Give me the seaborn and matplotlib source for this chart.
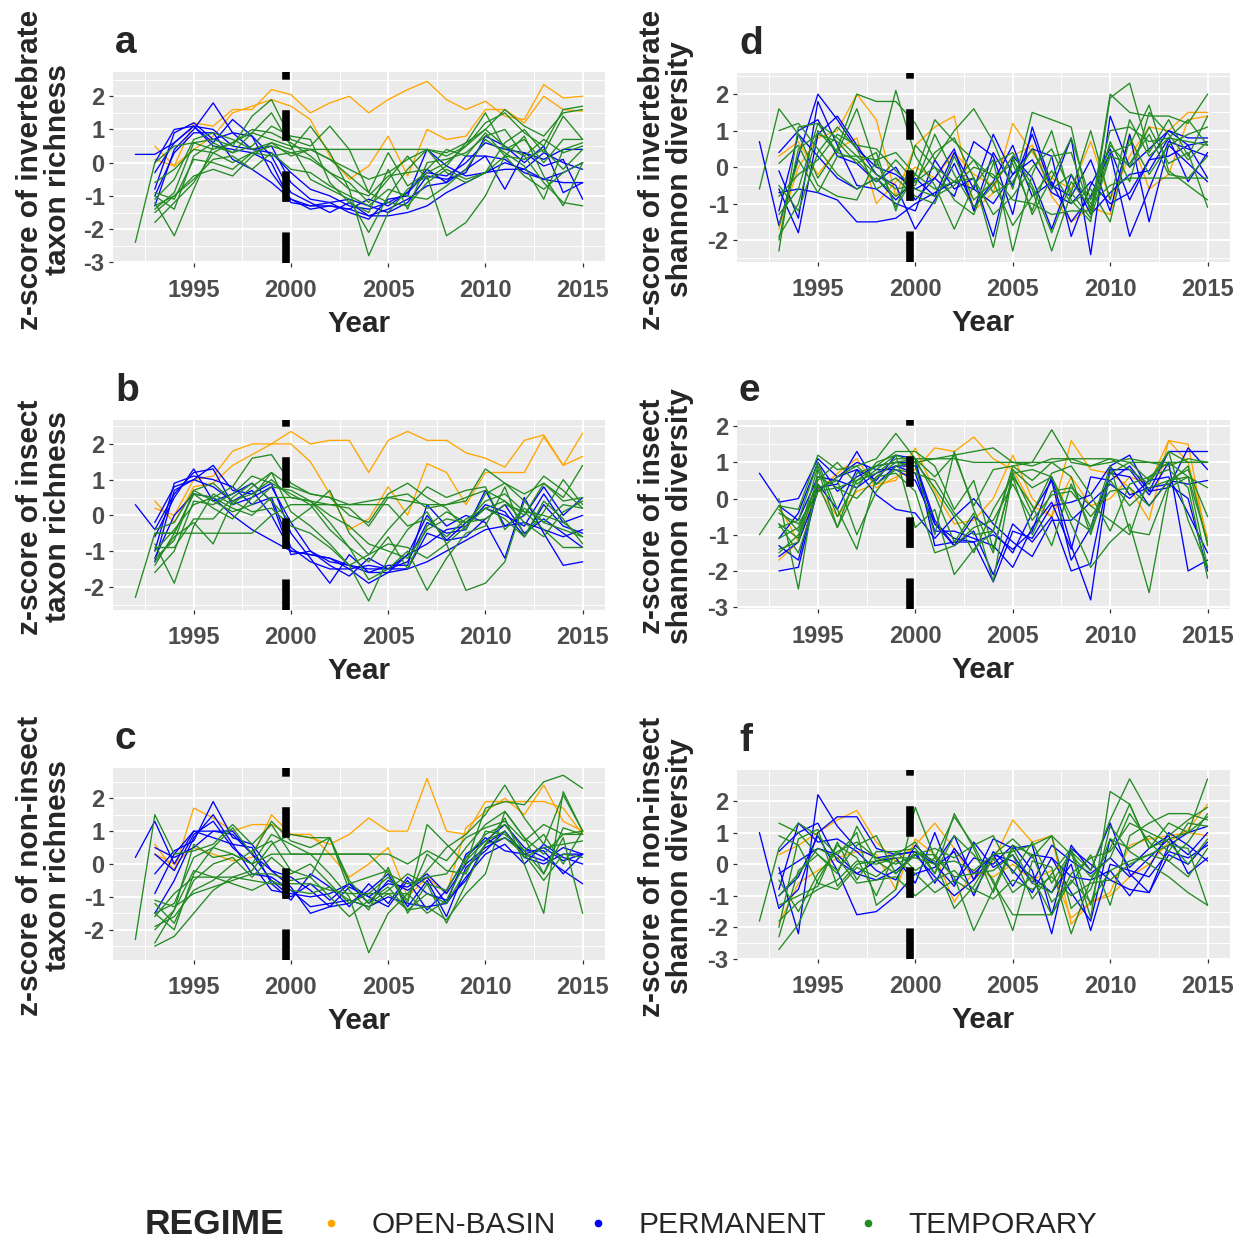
import numpy as np
import pandas as pd
import seaborn as sns
import matplotlib
matplotlib.use("Agg")
import matplotlib.pyplot as plt
from matplotlib.lines import Line2D
from matplotlib.ticker import MultipleLocator, FixedLocator

NA = float("nan")
YEARS = list(range(1992, 2016))
REGIMES = ["OPEN-BASIN", "PERMANENT", "TEMPORARY"]
PALETTE = {"OPEN-BASIN": "#FFA500", "PERMANENT": "#0000FF", "TEMPORARY": "#228B22"}
BREAK_YEAR = 1999.75

# ---- (a) invertebrate taxon richness, one row per site, 1992..2015 ----
A_OPEN = [
    [NA, 0.5, -0.1, 1.2, 1.1, 1.6, 1.6, 2.2, 2.05, 1.5, 1.8, 2.0, 1.5, 1.9, 2.2, 2.45, 1.9, 1.6, 1.85, 1.4, 1.3, 2.35, 1.95, 2.0],
    [NA, 0.1, -0.1, 0.4, 0.8, 1.5, 1.7, 1.9, 1.7, 1.3, 0.2, -0.5, -0.1, 0.8, -0.4, 1.0, 0.7, 0.8, 1.6, 1.6, 1.2, 2.0, 1.6, 1.55],
]
A_PERM = [
    [0.25, 0.25, 0.6, 1.1, 1.0, 0.5, 0.4, 0.3, -0.3, -0.8, -1.0, -1.3, -1.4, -1.2, -0.9, -0.3, -0.4, 0.0, 0.6, 0.4, 0.3, 0.1, 0.4, 0.4],
    [NA, -1.3, 0.4, 1.0, 1.8, 0.9, 0.4, 0.5, -0.6, -1.1, -1.2, -1.1, -1.3, -1.5, -1.2, -0.4, -0.5, -0.3, 0.8, 0.5, 0.0, 0.5, -0.9, -0.6],
    [NA, -0.8, 0.9, 1.2, 0.7, 0.9, 0.8, 0.2, -0.9, -1.2, -1.5, -1.2, -1.6, -1.4, -1.1, -0.7, -0.6, -0.2, 0.2, -0.8, 0.3, -0.1, 0.1, -1.1],
    [NA, -0.3, 0.6, 1.1, 0.5, 0.4, 0.3, 0.0, -1.2, -1.3, -1.2, -1.5, -1.7, -1.1, -1.0, 0.4, -0.1, -0.4, -0.3, 0.0, -0.2, 0.3, 0.0, -0.2],
    [NA, 0.0, 1.0, 1.1, 0.6, 1.3, 0.8, -0.3, -1.1, -1.4, -1.3, -1.4, -1.1, -1.3, -0.9, -0.2, -0.6, 0.2, 0.2, 0.1, -0.3, -0.5, -0.3, 0.0],
    [NA, -1.0, 0.3, 0.9, 0.9, 0.1, -0.2, -0.6, -1.1, -1.3, -1.3, -1.4, -1.6, -1.6, -1.5, -1.3, -0.9, -0.6, -0.3, -0.2, -0.2, -0.5, -0.6, -0.6],
]
A_TEMP = [
    [-2.4, 0.0, 0.5, 0.6, 0.4, 0.6, 0.9, 0.7, 0.5, 0.4, 0.4, 0.4, 0.4, 0.4, 0.4, 0.4, 0.2, 0.5, 1.2, 1.5, 0.9, 0.5, 1.6, 1.7],
    [NA, -1.4, -0.9, 0.6, 0.7, 0.5, 1.4, 1.9, 0.7, 0.5, 1.1, 0.4, -0.9, 0.3, -0.7, -0.3, 0.0, 0.5, 1.0, 1.6, 1.1, 0.8, 1.5, 1.6],
    [NA, -1.2, -2.2, -0.8, 0.5, 0.3, 0.9, 1.5, 0.5, -0.5, -0.8, -1.1, -2.1, -1.0, -0.2, 0.4, -0.3, -0.6, -0.3, 0.6, 1.0, 0.3, 1.4, 0.7],
    [NA, -1.8, -1.2, -0.6, 0.3, 0.6, 1.0, 0.9, 0.6, 0.2, -0.3, -0.8, -2.8, -1.5, -0.8, -0.4, -2.2, -1.8, -1.0, 0.2, 0.8, -0.4, -1.3, 0.0],
    [NA, -1.0, -1.4, 0.2, 0.6, 0.3, 0.5, 1.1, 0.8, 0.7, -0.6, -1.2, -1.5, -0.2, -1.4, 0.0, 0.1, 0.3, 0.8, 1.0, 0.2, -0.6, -1.2, -1.3],
    [NA, -0.9, -1.1, 0.1, 0.0, -0.2, 0.3, 0.5, 0.3, 0.1, -0.3, -0.6, -1.2, -0.5, 0.2, -0.5, -0.1, 0.6, 1.5, 0.4, 0.7, 0.0, 0.7, 0.7],
    [NA, -1.5, -1.0, -0.4, -0.2, -0.4, 0.2, 0.6, 0.4, 1.1, 0.3, -0.8, -1.0, -0.4, -0.3, -0.2, 0.4, 0.2, 0.9, 0.2, -0.4, -0.8, -0.3, 0.0],
    [NA, -1.3, -1.0, -0.5, 0.1, 0.2, -0.2, 0.3, -0.2, -0.3, -0.7, -1.0, -1.3, -0.8, -1.0, -1.1, -0.7, -0.2, 0.7, 0.3, -0.1, -1.1, 0.4, 0.6],
    [NA, -1.1, -0.5, 0.7, 0.9, 0.7, 0.4, 0.6, 0.2, 0.4, 0.1, -0.2, -0.5, -0.3, 0.1, 0.4, 0.3, 0.6, 1.0, 0.5, 0.2, 0.7, 0.3, 0.5],
    [NA, -0.6, -0.2, 0.4, 0.3, 0.0, 0.3, 0.2, 0.3, 0.4, 0.1, -0.4, -0.9, -1.2, -1.3, -0.6, -0.2, -0.5, -0.3, 0.2, 0.1, 0.4, -0.2, 0.4],
]

# ---- (b) insect taxon richness ----
B_OPEN = [
    [NA, 0.2, 0.0, 1.0, 1.1, 1.8, 2.0, 2.0, 2.35, 2.0, 2.1, 2.1, 1.2, 2.1, 2.35, 2.1, 2.1, 1.75, 1.6, 1.35, 2.1, 2.25, 1.4, 1.65],
    [NA, 0.4, -0.2, 0.8, 0.9, 1.4, 1.7, 2.0, 2.0, 1.5, 0.6, -0.4, -0.1, 0.8, 0.0, 1.45, 1.2, 0.3, 1.2, 1.2, 1.2, 2.2, 1.4, 2.3],
]
B_PERM = [
    [0.3, -0.4, 0.6, 1.2, 1.3, 0.3, 0.5, 0.8, -0.2, -1.0, -1.3, -1.4, -1.5, -1.5, -1.3, -0.2, -0.5, -0.4, 0.7, -0.3, 0.0, 0.8, 0.0, 0.5],
    [NA, -1.3, 0.7, 1.0, 1.4, 0.7, 0.6, 0.9, -0.5, -1.2, -1.9, -1.1, -1.6, -1.4, -1.4, 0.3, -0.3, 0.0, -0.2, -1.2, 0.5, -0.5, -1.4, -1.3],
    [NA, -1.0, 0.9, 1.1, 1.0, 0.8, 0.3, 0.5, -0.9, -1.3, -1.5, -1.5, -1.9, -1.6, -1.1, -0.8, -0.4, -0.3, 0.3, 0.1, -0.6, 0.3, -0.3, -0.5],
    [NA, -0.6, 0.5, 1.3, 0.4, 0.6, 0.9, 0.4, -1.1, -1.0, -1.4, -1.7, -1.2, -1.5, -1.5, -0.5, -0.7, -0.2, 0.2, 0.0, -0.3, 0.6, -0.2, 0.0],
    [NA, -0.2, 0.8, 1.0, 0.8, 0.4, 0.7, 0.0, -1.0, -1.1, -1.2, -1.5, -1.4, -1.5, -1.1, 0.0, -0.7, -0.6, -0.1, 0.3, -0.5, -0.1, -0.5, -0.9],
    [NA, -1.2, 0.0, 0.6, 0.5, 0.0, -0.4, -0.7, -1.0, -1.1, -1.2, -1.4, -1.6, -1.6, -1.5, -1.3, -1.0, -0.7, -0.4, -0.3, -0.2, -0.4, -0.6, -0.4],
]
B_TEMP = [
    [-2.3, -0.5, -0.5, 0.6, 0.2, -0.1, 0.5, 1.2, 0.8, 0.6, 0.5, 0.3, 0.4, 0.5, 0.4, 0.3, 0.3, 0.4, 1.3, 0.9, 0.6, 0.9, 0.5, 1.4],
    [NA, -1.4, -0.5, 0.6, 0.5, 0.8, 1.6, 1.7, 0.9, 0.6, 0.5, 0.0, -0.2, 0.6, 0.9, 0.5, 0.2, -0.4, 0.6, 0.9, 0.4, 1.1, 0.7, 0.2],
    [NA, -0.8, -1.9, -0.3, 0.6, 0.3, 0.8, 1.2, 0.1, -0.3, -0.8, -1.4, -2.4, -1.2, -0.4, 0.1, -0.8, -2.1, -1.9, -1.3, 0.4, -0.2, -0.4, -0.6],
    [NA, -1.6, -1.0, 0.4, 0.3, 0.6, 1.1, 0.9, 0.6, 0.3, -0.4, -0.9, -1.8, -1.5, -1.0, -2.1, -1.2, -0.5, -0.3, 0.8, -0.6, 0.1, 1.0, 0.3],
    [NA, -1.2, -0.7, 0.7, 0.9, 0.4, 0.6, 1.0, 0.5, 0.4, -0.2, -0.9, -1.3, -0.6, -1.5, -0.3, 0.1, -0.2, 0.4, 0.6, 0.1, -0.4, -0.9, -0.9],
    [NA, -0.9, -0.9, -0.1, -0.1, 0.5, 0.9, 0.4, -0.2, 0.2, 0.7, -0.5, -1.1, -0.4, 0.2, 0.8, 0.5, 0.7, 0.8, -0.4, 0.2, -0.2, 0.3, 0.2],
    [NA, -0.5, -0.5, -0.5, -0.5, -0.5, -0.5, 0.0, 0.3, 0.3, 0.3, 0.3, 0.3, 0.3, -0.3, -0.1, -0.6, -0.1, 0.2, -0.1, -0.6, 0.4, -0.1, -0.8],
    [NA, -1.3, -0.6, -0.2, -0.8, 0.4, 0.1, 0.2, -0.3, -0.5, -0.9, -1.4, -1.1, -0.8, -0.9, -1.2, -0.8, -0.3, 0.2, 0.4, -0.2, -0.6, 0.1, 0.4],
    [NA, -1.0, -0.4, 0.3, 0.5, 0.2, 0.0, 0.5, 0.5, 0.4, 0.3, 0.2, -0.3, 0.5, 0.6, 0.2, 0.3, 0.5, 0.7, 0.4, 0.0, 0.9, 0.4, 0.5],
    [NA, -0.4, -0.2, 0.7, 0.4, 0.1, 0.3, 0.8, 0.7, 0.4, 0.0, -0.3, -0.8, -1.0, -1.2, -0.4, -0.1, -0.2, -0.1, 0.3, 0.1, 0.0, -0.2, -0.6],
]

# ---- (c) non-insect taxon richness ----
C_OPEN = [
    [NA, 0.6, -0.2, 1.7, 1.4, 1.0, 1.2, 1.2, 0.9, 0.8, 0.6, 0.9, 1.4, 1.0, 1.0, 2.6, 1.0, 0.9, 1.9, 1.9, 1.9, 1.9, 1.7, 0.9],
    [NA, 0.3, 0.0, 0.5, 0.3, 0.1, 0.2, 1.5, 0.9, 0.9, 0.3, -0.4, 0.0, 0.5, -1.0, -0.4, -0.9, 1.1, 1.6, 2.0, 1.5, 2.4, 1.3, 1.0],
]
C_PERM = [
    [0.2, 1.3, 0.0, 1.0, 1.0, 1.0, 0.3, -0.5, -1.0, -0.6, -1.1, -0.6, -1.2, -0.5, -0.8, -0.4, -1.2, 0.3, 0.7, 1.2, 0.5, 0.2, -0.2, -0.6],
    [NA, -0.3, 0.4, 0.7, 1.9, 0.8, 0.6, -0.2, -0.7, -1.5, -1.3, -1.2, -0.8, -0.3, -1.3, -0.5, -1.6, -0.1, 0.4, 1.0, 0.3, 0.1, 0.5, 0.3],
    [NA, -1.5, -0.5, 0.8, 1.5, 0.6, 0.5, -0.6, -1.1, -0.3, -0.7, -1.3, -0.6, -1.2, -0.4, -0.9, -1.1, -0.5, 0.6, 1.0, 0.2, 0.0, 0.3, 0.3],
    [NA, 0.5, 0.2, 0.5, 1.0, 0.9, 0.3, -0.2, -0.4, -0.8, -1.3, -0.7, -1.0, -0.6, -0.7, -0.3, -0.9, 0.0, 0.5, 0.8, 0.4, 0.4, -0.3, 0.3],
    [NA, 0.3, -0.2, 0.9, 1.3, 0.5, 0.0, -0.8, -0.9, -1.0, -0.9, -0.6, -1.0, -1.3, -0.5, -1.4, -0.8, 0.2, 0.8, 0.4, 0.3, 0.5, 0.1, 0.3],
    [NA, -0.9, 0.3, 1.0, 0.8, 0.6, -0.3, -0.4, -0.8, -1.3, -1.2, -1.1, -1.3, -1.0, -1.2, -1.3, -1.2, -0.4, 0.3, 0.6, 0.0, 0.6, 0.2, 0.0],
]
C_TEMP = [
    [-2.3, 1.5, 0.3, 0.4, 0.6, 1.2, 0.6, 1.2, 0.3, 0.3, -0.3, -1.0, -2.7, -1.5, -0.9, -0.2, 0.5, 0.9, 1.5, 2.4, 1.4, 0.6, 2.1, 1.0],
    [NA, -2.5, -2.2, -1.5, -0.8, -0.4, -0.2, 0.6, 0.9, 0.8, 0.8, -0.6, -0.4, -0.2, -1.2, 1.2, 0.6, 0.0, 1.7, 1.9, 1.8, 2.5, 2.7, 2.3],
    [NA, -1.5, -2.0, -0.3, 0.5, 1.1, 0.3, 1.3, 0.7, 0.5, 0.8, -0.8, -1.4, -0.1, -1.5, -0.6, -1.8, -0.6, 0.6, 1.4, 0.0, -1.5, 2.2, 1.0],
    [NA, -2.4, -1.4, 0.6, 0.2, 0.3, 0.0, 0.3, 0.3, 0.3, 0.3, 0.3, 0.3, -0.3, -0.6, -0.4, -0.3, 0.5, 1.2, 1.6, 0.8, 0.3, 0.9, 0.9],
    [NA, -1.9, -1.6, -0.8, -0.5, 0.0, 0.4, 0.7, -0.2, -0.4, 0.8, -0.5, -1.2, -0.8, -0.3, -0.6, -0.8, 0.2, 0.9, 1.2, 0.4, -0.3, 0.8, -1.5],
    [NA, -1.2, -1.8, -0.5, 0.0, 0.2, -0.4, 0.2, -0.3, 0.0, -0.6, -1.2, -0.9, -0.4, -1.1, 0.3, -0.2, -0.3, 1.0, 0.9, 0.4, 0.9, 0.0, 1.0],
    [NA, -1.6, -0.9, -0.4, -0.4, -0.4, -0.5, -0.6, -0.6, -0.6, -0.8, -0.9, -0.9, -0.9, -0.9, -1.5, -1.1, 0.1, 0.7, 1.0, 0.2, 0.5, 0.6, 0.7],
    [NA, -1.1, -1.3, -0.9, -0.7, -0.5, -0.3, -0.3, -0.5, -0.4, -1.0, -1.6, -1.1, -0.7, -1.4, -1.3, -1.7, -0.9, -0.3, 1.6, 0.8, -0.3, 1.1, 0.9],
    [NA, -1.5, -1.2, 0.2, 0.5, 0.3, 0.0, 0.9, 0.6, 0.3, 0.3, 0.3, 0.3, 0.3, 0.0, 0.4, 0.1, 0.8, 1.1, 1.3, 0.7, 1.2, 0.9, 1.0],
    [NA, -2.0, -1.4, -0.2, -0.4, -0.6, -0.8, -0.5, -0.8, -0.9, -0.7, -1.1, -1.3, -0.9, -1.4, -0.9, -1.2, -0.2, 0.6, 0.8, 0.3, -0.5, 0.3, 0.2],
]

# ---- (d) invertebrate Shannon diversity ----
D_OPEN = [
    [NA, -1.7, 0.0, 0.8, 1.0, 2.0, 1.3, -0.8, 0.6, 1.1, 1.4, -1.2, -0.7, 1.2, 0.4, -0.3, -0.6, 0.7, -0.9, 0.3, 1.1, 1.0, 1.5, 1.5],
    [NA, 0.3, 0.7, -0.2, 0.5, 0.8, -1.0, -0.4, 0.0, -0.3, 0.4, -0.2, -0.5, 0.3, 0.6, -0.8, -1.5, -1.1, -1.3, 0.9, -0.6, -0.2, 1.3, 1.4],
]
D_PERM = [
    [0.7, -1.6, 0.3, 2.0, 1.3, 0.5, 0.0, -0.2, -0.6, -0.3, 0.5, -1.2, 0.4, -0.5, 0.9, -0.6, 0.8, -2.4, 1.4, 0.0, 0.5, 1.0, 0.8, 0.8],
    [NA, -0.1, -1.4, 1.8, 0.6, -0.5, -0.6, -1.0, -1.2, 0.2, -0.6, -0.3, -1.9, 0.3, -0.3, -1.7, -0.2, -1.3, -0.7, -0.2, -0.1, 0.8, -0.4, 0.4],
    [NA, 0.4, 1.0, 1.3, 0.3, 0.1, -0.4, 0.0, -0.9, -0.3, -0.8, 0.7, 0.3, -1.3, 1.1, -0.5, -0.8, 0.2, -1.2, 0.9, -1.5, 0.6, 0.1, -0.4],
    [NA, -0.6, -1.8, 0.9, 1.4, 0.6, -0.2, -0.5, -1.7, -0.9, 0.1, -1.1, -0.4, 0.6, -0.8, -0.4, -1.5, -0.8, 0.4, -1.9, -0.6, 0.7, 0.5, 0.3],
    [NA, -1.2, 0.9, 0.3, -0.3, -0.6, -0.3, -0.9, -0.3, -0.8, 0.4, -0.6, 0.9, -0.2, 0.5, 0.3, -1.9, -0.5, 0.5, -0.9, 0.2, 0.3, 0.6, 0.7],
    [NA, -0.7, -0.6, -0.7, -0.9, -1.5, -1.5, -1.4, -1.0, -0.7, -0.4, -0.6, -1.0, -0.2, 0.2, -0.7, -1.0, -0.4, -1.0, -0.7, 0.2, 1.0, 0.6, -0.3],
]
D_TEMP = [
    [-0.6, 1.6, 0.9, -0.3, 0.5, 2.0, 1.8, 1.8, 1.2, 0.2, 1.0, 1.6, 0.7, -0.6, 1.5, 1.3, 1.1, -1.3, 2.0, 1.5, 1.4, 1.4, 1.2, 2.0],
    [NA, -2.3, 1.1, 1.2, 0.4, 1.6, 0.0, 2.1, 0.3, -0.5, -1.7, -0.5, 0.2, -2.3, -0.2, 1.0, -0.9, -1.5, 1.9, 2.3, 0.4, 1.3, 0.3, 1.4],
    [NA, -2.0, 0.5, 0.9, 0.7, 0.1, 0.4, -1.2, 0.6, 0.0, -0.4, -0.3, -2.2, 0.2, -0.6, -2.3, -0.7, 1.0, -0.9, 1.3, 0.3, 0.8, 0.7, 0.6],
    [NA, -1.3, -0.6, 1.2, 0.8, 0.3, -0.2, -0.6, -0.5, 0.9, -0.2, -1.1, -0.5, 0.3, -1.3, -0.3, 0.8, -0.9, 0.6, 0.0, 1.1, 0.1, 0.4, -1.1],
    [NA, 1.0, 1.2, 0.5, -0.2, -0.6, -0.3, -0.8, -0.4, 0.4, 0.8, -0.3, -1.3, -0.8, 0.0, 0.5, -0.7, -1.4, 0.3, 0.1, 0.9, -0.2, -0.3, 0.3],
    [NA, -0.5, -1.2, 0.4, 1.1, 0.5, -0.6, -0.3, -0.8, -1.0, 0.3, -0.9, -0.4, -1.6, -0.8, -0.1, -1.0, -0.6, -1.5, 0.8, -0.2, 0.6, 0.9, 1.1],
    [NA, -1.6, 0.2, -0.7, 0.3, 0.3, 0.2, -1.1, -0.2, -0.6, -0.4, 0.2, -0.7, -0.4, 0.5, -0.6, -0.2, -1.0, -0.5, -0.3, -0.3, -0.3, -0.3, -0.3],
    [NA, 0.1, 0.6, -0.5, -0.8, -0.9, 0.2, 0.4, -0.2, 1.3, 0.7, 0.2, -0.3, 0.1, -1.2, 0.3, 0.4, -1.2, 0.7, -0.4, 1.5, 0.9, 0.2, 0.7],
    [NA, -0.8, -0.2, 0.2, 0.9, 0.6, 0.5, -0.1, -0.6, -0.8, -0.5, 0.0, -0.2, -0.9, -1.0, -1.3, -1.2, -1.2, 0.4, 0.6, 1.7, -0.1, -0.5, -0.9],
    [NA, -1.9, -1.0, 1.0, 0.4, 0.2, -0.4, 0.2, -0.4, 0.0, -0.9, -1.3, 0.1, 0.4, -0.5, -1.8, -0.4, -1.1, 1.0, 1.1, 0.7, 0.8, 1.3, 0.6],
]

# ---- (e) insect Shannon diversity ----
E_OPEN = [
    [NA, -0.2, -1.2, 0.2, 0.7, 1.1, 0.3, 0.6, 0.8, 1.4, 1.3, 1.7, 1.1, 0.8, -0.2, -0.5, 1.6, 0.8, 0.7, 0.3, -0.6, 1.6, 1.5, -1.3],
    [NA, -1.7, -1.2, 0.3, -0.5, 0.2, 0.4, 0.5, 1.4, 0.2, -0.7, -0.6, 0.0, 1.2, 0.0, -0.5, 0.6, -0.2, 0.0, 0.6, 0.4, 1.6, 1.0, -1.1],
]
E_PERM = [
    [0.7, -0.1, 0.0, 1.1, 0.6, 1.0, 0.8, 0.8, 0.5, -0.7, -1.1, -1.2, -1.0, -1.4, -0.9, 0.6, -1.3, -2.8, 0.9, 1.2, 0.2, 1.3, 1.3, 1.3],
    [NA, -1.1, -0.4, 1.0, 0.2, 0.6, 0.9, 1.0, 1.0, -0.6, -1.3, -0.9, -2.1, -0.7, -1.2, -0.5, -2.0, -1.8, 0.8, 0.8, 0.1, 1.0, -2.0, -1.7],
    [NA, -2.0, -1.9, 0.3, 0.4, 1.3, 0.4, 0.9, 0.9, -0.7, -1.3, -0.5, -0.9, -1.5, -0.4, 0.5, -1.7, -0.8, 0.7, 0.6, -0.2, 0.5, 0.4, 0.5],
    [NA, -0.2, -0.6, 0.6, 0.5, 0.3, 0.7, 0.9, 0.7, -0.9, -0.9, -1.1, -1.3, -1.9, -0.8, -0.1, -1.4, 0.6, 0.5, 0.9, 0.2, 0.3, 1.4, 0.8],
    [NA, -1.3, -1.7, 0.4, -0.3, 0.8, 0.5, 1.2, 1.1, -1.3, -1.2, -1.2, -2.3, -0.9, -1.1, -0.2, -0.1, 0.1, 0.9, 0.1, 0.3, 0.4, 0.0, -2.0],
    [NA, -1.6, -1.2, 0.2, 0.6, 0.8, 0.1, -0.3, -0.4, -1.1, -0.5, 0.0, -0.7, -1.2, -1.6, -0.6, -0.6, -0.1, 0.4, 0.0, 0.5, 0.6, -0.4, -1.5],
]
E_TEMP = [
    [-1.0, -0.2, -0.3, 1.2, 0.8, 0.9, 1.1, 1.8, 1.1, 0.6, 1.2, -0.2, 0.8, 0.9, 1.0, 1.9, 1.0, 0.9, 1.1, 0.8, 0.4, 1.3, 1.0, 1.0],
    [NA, 0.0, -2.5, 0.8, -0.8, 0.3, 1.0, 1.2, 1.0, 1.1, 1.2, 1.3, 1.4, 1.0, 0.9, 1.1, 1.1, 0.9, 1.0, 1.1, 1.0, 0.9, 1.1, 1.0],
    [NA, -0.7, -1.1, 0.9, -0.5, 0.5, 0.9, 1.0, 0.9, -1.0, 1.3, -0.3, -1.5, 0.7, 0.8, 0.6, -0.7, -1.9, -1.2, -0.7, -2.6, 0.3, 0.6, -1.9],
    [NA, -0.8, -0.6, 1.0, -0.3, -1.4, 0.6, 1.0, 1.1, 0.1, -1.2, -0.4, -2.3, 0.7, -0.4, 0.7, 0.9, 0.1, -0.9, 0.4, 0.6, 0.8, 0.3, -2.2],
    [NA, -1.5, -1.0, 0.3, 0.5, -1.0, 0.2, 0.9, 1.0, 0.3, -0.5, -1.5, -0.3, 0.6, -0.2, -1.3, 0.4, -0.8, 0.9, -0.9, -1.0, 0.4, 0.9, -1.3],
    [NA, -0.3, -0.9, 0.5, 1.0, 0.4, 0.8, 1.2, -0.8, -0.3, -2.1, -1.4, -0.9, 0.9, 0.5, 1.0, 0.6, -1.0, 0.7, 1.0, 0.5, 1.3, -0.6, -1.9],
    [NA, -1.1, -0.8, 0.4, -0.8, 0.7, 0.9, 1.3, 1.3, 0.9, -0.3, 0.5, -1.4, 0.6, -1.0, 0.2, 0.3, -0.2, -0.6, -1.0, 0.6, 1.0, 0.6, -1.2],
    [NA, -0.4, -0.7, 0.2, 0.3, 0.0, 0.6, 0.7, 0.2, -1.5, -1.3, -0.8, -0.6, 0.4, -0.6, 0.1, 0.2, -0.5, 0.2, 0.3, -0.2, 0.5, 0.6, 0.3],
    [NA, -1.4, -1.2, 0.6, 0.3, 0.5, 0.7, 1.1, 1.1, 1.1, 1.1, 1.0, 1.0, 1.0, 1.0, 1.0, 1.1, 1.1, 1.1, 1.0, 1.0, 1.0, 1.0, 1.0],
    [NA, -0.7, -1.5, 0.2, 0.6, 0.9, 0.4, 0.8, 0.7, 0.5, -0.4, -1.0, -0.9, 0.8, 0.3, 0.6, -0.5, -0.9, 0.5, -0.2, 0.3, 0.5, 0.8, -0.5],
]

# ---- (f) non-insect Shannon diversity ----
F_OPEN = [
    [NA, 0.3, 0.6, 1.0, 1.4, 1.7, 0.7, 0.1, 0.6, 1.3, 0.5, -0.5, 0.1, 1.4, 0.7, 0.9, -1.9, -1.2, -0.9, 0.6, 0.8, 0.9, 1.0, 0.9],
    [NA, -1.9, -0.6, -0.2, 0.2, 0.4, 0.3, -0.8, 0.8, 0.3, -1.2, -0.2, -0.4, 0.0, -0.5, -0.2, -1.7, -1.2, -1.0, -0.4, 0.0, 0.7, 1.1, 1.9],
]
F_PERM = [
    [1.0, -1.4, -0.8, 1.0, 1.5, 1.5, 0.5, 0.3, 0.4, 0.0, 0.9, -0.5, 0.8, 0.5, 0.6, -1.6, 0.6, -0.2, 1.3, -0.3, -0.9, 0.6, 1.0, 1.2],
    [NA, -0.1, -2.2, 2.2, 1.2, 0.5, 0.2, 0.3, 0.4, -0.6, 0.5, -0.3, 0.3, -0.7, 0.3, 0.2, -0.9, -1.8, 0.8, -0.1, 0.5, 0.9, -0.3, 0.2],
    [NA, -0.8, 1.3, 0.7, 0.8, 0.4, -0.2, -0.5, 0.6, 0.0, -0.7, 0.7, -0.1, 0.3, -0.6, 0.6, 0.1, -0.3, 0.2, -0.4, 0.2, 0.8, 0.3, 1.0],
    [NA, 0.4, 1.0, 1.3, 0.1, -0.3, 0.1, 0.2, -0.6, 1.0, -0.6, 0.2, 0.0, 0.6, -0.2, -2.2, 0.5, 0.0, -0.5, -0.8, -0.9, 0.3, 0.0, 0.7],
    [NA, -1.0, -0.4, 0.9, -0.2, -1.6, -1.5, -1.0, -0.3, -0.1, 0.4, -1.0, 0.4, -0.2, -0.9, 0.2, -0.4, -0.5, -0.2, -1.0, -0.1, 1.0, 0.6, 0.1],
    [NA, -0.3, 0.1, 0.5, 0.3, -0.3, -0.5, -0.2, 0.3, -0.4, -1.0, -0.5, 0.3, 0.1, -0.4, -0.9, 0.0, -2.1, 0.0, -0.2, -0.4, 0.4, 0.2, 0.6],
]
F_TEMP = [
    [-1.8, 0.5, 1.3, 0.9, 0.3, 1.0, -1.3, -0.8, 1.8, 0.2, 1.5, 0.6, 0.9, -0.3, 0.7, -0.6, 0.4, -1.7, 2.3, 1.9, 0.5, 1.3, 1.0, 2.7],
    [NA, -2.3, -0.2, 0.3, -0.3, 1.2, 0.1, 0.3, 0.7, -0.3, 1.6, 0.5, -0.9, 0.5, -0.6, -0.9, 0.4, -0.2, 1.4, 2.7, 1.6, 0.9, 1.4, 1.8],
    [NA, -2.7, -1.9, -0.5, 0.6, 0.2, -1.0, 0.4, 0.5, -0.3, 0.9, 0.3, -0.5, -2.1, 0.1, -0.1, -2.2, -0.5, 0.5, 1.9, 0.5, 0.8, 1.0, 1.5],
    [NA, 1.3, 1.0, 0.3, -0.2, 0.6, 0.9, -0.3, 0.3, 0.3, -0.4, -2.1, -0.8, 0.6, 0.3, -1.2, -0.6, 0.3, -1.3, 0.9, 1.3, 1.6, 1.6, 1.4],
    [NA, -1.3, -1.0, -0.7, 0.7, -0.5, 0.4, 0.4, -0.2, 0.2, -0.4, -0.3, -0.2, 0.3, -1.1, -0.3, 0.5, -1.3, 1.2, 0.4, 0.0, -0.4, -0.9, -1.3],
    [NA, -2.0, 0.8, 1.1, -0.7, 0.0, 0.1, -0.3, 0.4, 0.1, -1.4, -0.7, 0.3, 0.8, 0.2, 0.9, -1.4, -0.8, 0.8, 0.5, 0.9, 0.4, 1.3, 1.2],
    [NA, -0.5, -1.5, -0.3, 0.4, 0.7, 0.2, 0.0, 0.3, 0.5, 0.2, 0.6, -0.6, -1.6, -1.6, -1.6, -0.3, 0.2, 0.4, 1.3, 1.0, 0.7, 0.0, 0.8],
    [NA, -1.8, -1.2, -0.8, -0.5, 0.1, 0.0, 0.2, 0.2, 0.0, 0.1, -0.2, 0.3, 0.4, 0.6, 0.9, 0.3, -0.4, 0.2, 1.6, 0.7, 0.1, 0.7, 1.6],
    [NA, 0.9, 0.6, -0.6, -0.8, -0.1, -0.4, 0.1, -0.3, -0.9, -0.5, -0.9, 0.2, -0.9, -0.4, -1.6, -0.5, -1.2, -0.2, 0.1, 0.3, 0.1, -0.4, 0.5],
    [NA, -1.0, -0.3, 0.5, 0.2, -0.6, -0.5, -0.4, -1.0, -0.5, -0.2, -0.8, -1.1, -0.5, -0.8, -0.4, -1.0, -0.6, -0.5, 0.0, 0.3, 0.6, 0.5, -1.3],
]

PANEL_DATA = {
    "a": (A_OPEN, A_PERM, A_TEMP), "b": (B_OPEN, B_PERM, B_TEMP), "c": (C_OPEN, C_PERM, C_TEMP),
    "d": (D_OPEN, D_PERM, D_TEMP), "e": (E_OPEN, E_PERM, E_TEMP), "f": (F_OPEN, F_PERM, F_TEMP),
}
YLABELS = {
    "a": "z-score of invertebrate\ntaxon richness",
    "b": "z-score of insect\ntaxon richness",
    "c": "z-score of non-insect\ntaxon richness",
    "d": "z-score of invertebrate\nshannon diversity",
    "e": "z-score of insect\nshannon diversity",
    "f": "z-score of non-insect\nshannon diversity",
}
YLIMS = {"a": (-3.02, 2.73), "b": (-2.65, 2.67), "c": (-2.92, 2.92),
         "d": (-2.6, 2.58), "e": (-3.05, 2.17), "f": (-3.0, 2.98)}

# long-format table: one row per site and year
records = []
for panel, groups in PANEL_DATA.items():
    for regime, series in zip(REGIMES, groups):
        for i, values in enumerate(series):
            for yr, v in zip(YEARS, values):
                if not np.isnan(v):
                    records.append((panel, regime, f"{regime}-{i}", yr, v))
df = pd.DataFrame(records, columns=["panel", "regime", "site", "year", "z"])

sns.set_style("darkgrid", {"axes.facecolor": "#EBEBEB", "grid.color": "white"})
plt.rcParams["font.family"] = ["Liberation Sans", "DejaVu Sans"]
plt.rcParams["axes.unicode_minus"] = False

W, H = 1245, 1243
fig = plt.figure(figsize=(W / 100, H / 100), dpi=100)
fig.patch.set_facecolor("white")

# panel boxes in pixels: left, top, right, bottom
BOXES = {
    "a": (113, 72, 605, 263), "b": (113, 420, 605, 610), "c": (113, 768, 605, 960),
    "d": (737, 73, 1230, 262), "e": (737, 420, 1230, 609), "f": (737, 770, 1230, 959),
}
TICK_GREY = "#4D4D4D"

for key, (x0, y0, x1, y1) in BOXES.items():
    ax = fig.add_axes([x0 / W, 1 - y1 / H, (x1 - x0) / W, (y1 - y0) / H])
    sub = df[df["panel"] == key]
    sns.lineplot(data=sub, x="year", y="z", hue="regime", hue_order=REGIMES,
                 units="site", estimator=None, palette=PALETTE, linewidth=0.95,
                 legend=False, ax=ax, zorder=2)
    ax.axvline(BREAK_YEAR, color="black", lw=5.5, linestyle=(0, (4, 4)),
               dash_capstyle="butt", zorder=3)

    lo, hi = YLIMS[key]
    ax.set_xlim(1990.85, 2016.15)
    ax.set_ylim(lo, hi)
    ax.xaxis.set_major_locator(FixedLocator([1995, 2000, 2005, 2010, 2015]))
    ax.xaxis.set_minor_locator(FixedLocator([1992.5, 1997.5, 2002.5, 2007.5, 2012.5]))
    ax.yaxis.set_major_locator(MultipleLocator(1))
    ax.yaxis.set_minor_locator(MultipleLocator(0.5))
    ax.grid(which="major", color="white", lw=1.4)
    ax.grid(which="minor", color="white", lw=0.7)
    ax.set_axisbelow(True)
    for s in ax.spines.values():
        s.set_visible(False)
    ax.tick_params(which="major", length=3.0, width=0.9, color="#333333",
                   labelsize=17, labelcolor=TICK_GREY, bottom=True, left=True)
    ax.tick_params(axis="x", pad=8.5)
    ax.tick_params(axis="y", pad=3)
    ax.tick_params(which="minor", length=0)
    for lab in ax.get_xticklabels() + ax.get_yticklabels():
        lab.set_fontweight("bold")
    ax.set_xlabel("")
    ax.set_ylabel("")

    # panel letter, x title and y title
    fig.text((x0 + 2) / W, 1 - (y0 - 19) / H, key, fontsize=28, fontweight="bold",
             ha="left", va="baseline")
    fig.text((x0 + x1) / 2 / W, 1 - (y1 + 61) / H, "Year", fontsize=21.5,
             fontweight="bold", ha="center", va="center")
    tx = 44 if x0 < 400 else 666
    fig.text(tx / W, 1 - ((y0 + y1) / 2 + 2) / H, YLABELS[key], rotation=90,
             fontsize=21.5, fontweight="bold", ha="center", va="center",
             multialignment="center", linespacing=1.0)

# legend along the bottom
fig.text(145 / W, 1 - 1224 / H, "REGIME", fontsize=25.5, fontweight="bold",
         ha="left", va="center")
handles = [Line2D([], [], marker="o", linestyle="", color=PALETTE[r], markersize=4.5)
           for r in REGIMES]
fig.legend(handles, REGIMES, ncol=3, loc="center left",
           bbox_to_anchor=(316 / W, 1 - 1225 / H), frameon=False, fontsize=21.5,
           handlelength=1.0, handletextpad=0.85, columnspacing=0.92,
           borderpad=0, borderaxespad=0)

fig.savefig("out.png", dpi=100)
